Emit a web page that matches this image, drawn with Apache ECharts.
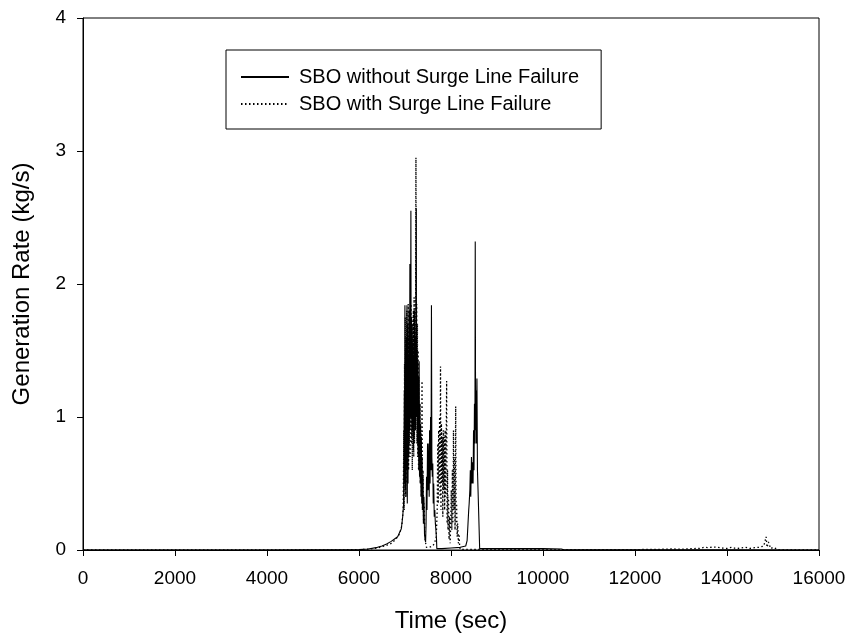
<!DOCTYPE html>
<html>
<head>
<meta charset="utf-8">
<script src="https://cdn.jsdelivr.net/npm/echarts@6/dist/echarts.min.js"></script>
<style>html,body{margin:0;padding:0;background:#fff;}#c{width:849px;height:642px;}</style>
</head>
<body>
<div id="c"></div>
<script>
const xTicks = [0, 2000, 4000, 6000, 8000, 10000, 12000, 14000, 16000];
const yTicks = [0, 1, 2, 3, 4];
const seriesNames = ['SBO without Surge Line Failure', 'SBO with Surge Line Failure'];

const withoutFailure = [
[0,0],[1000,0],[2000,0],[3000,0],[4000,0],[5000,0.001],[5800,0.002],[6000,0.003],[6200,0.008],[6400,0.02],[6500,0.03],[6600,0.045],[6700,0.065],[6780,0.085],[6840,0.1],[6880,0.13],[6920,0.16],[6950,0.25],[6970,0.35],
[6985,1.2],[6992,0.5],[6998,1.84],[7005,0.45],[7012,1.5],[7020,0.4],[7028,1.6],[7035,0.6],[7042,1.84],[7050,0.35],[7058,1.7],[7066,0.5],[7074,1.45],[7082,0.7],[7090,1.8],[7098,0.9],[7106,2.15],[7114,1.0],[7122,1.6],[7128,2.55],[7135,1.0],[7142,1.75],[7150,0.85],[7158,1.7],[7166,0.9],[7174,1.55],[7182,0.75],[7190,1.45],[7198,0.85],[7206,1.8],[7214,0.95],[7222,1.6],[7230,0.9],[7238,2.0],[7245,2.57],[7252,1.0],[7260,1.5],[7268,0.8],[7276,1.42],[7284,0.7],[7292,1.3],[7300,0.6],[7308,1.42],[7316,0.55],[7324,1.1],[7332,0.5],[7340,0.95],[7348,0.4],[7356,0.85],[7364,0.35],[7372,0.7],[7380,0.3],[7390,0.55],[7400,0.2],[7412,0.4],[7424,0.12],[7436,0.08],[7448,0.06],[7458,0.2],[7468,0.55],[7478,0.3],[7490,0.8],[7500,0.45],[7510,0.6],[7518,0.8],[7526,0.4],[7534,0.9],[7545,0.5],[7556,1.0],[7566,0.6],[7575,1.84],[7584,0.7],[7594,0.55],[7604,0.65],[7614,0.35],[7624,0.5],[7636,0.25],[7648,0.3],[7660,0.2],[7672,0.15],[7685,0.08],[7692,0.01],
[7800,0.01],[8000,0.015],[8200,0.02],[8320,0.03],[8350,0.07],[8370,0.2],[8385,0.3],[8395,0.35],[8410,0.45],[8420,0.6],[8430,0.4],[8445,0.7],[8455,0.5],[8469,0.66],[8480,0.5],[8490,0.9],[8500,0.6],[8510,1.1],[8520,0.8],[8527,2.32],[8535,0.9],[8545,1.2],[8552,0.8],[8564,1.29],[8575,0.6],[8588,0.45],[8600,0.3],[8612,0.15],[8623,0.01],
[9000,0.01],[9500,0.01],[10000,0.01],[10400,0.008],[10450,0.001],[12000,0.001],[14000,0.002],[16000,0]
];

const withFailure = [
[0,0],[5000,0.001],[6000,0.002],[6200,0.006],[6400,0.015],[6600,0.035],[6700,0.05],[6800,0.08],[6880,0.12],[6930,0.18],[6960,0.3],
[6975,0.9],[6983,0.3],[6990,1.4],[6998,0.5],[7006,1.75],[7014,0.4],[7022,1.6],[7030,0.6],[7038,1.8],[7046,0.5],[7054,1.7],[7062,0.7],[7070,1.85],[7078,0.6],[7086,1.6],[7094,0.8],[7102,1.8],[7110,0.7],[7118,1.7],[7126,0.9],[7134,1.85],[7142,0.8],[7150,1.75],[7158,0.6],[7166,1.6],[7174,0.9],[7182,1.8],[7190,0.7],[7198,1.9],[7206,0.8],[7214,1.6],[7222,0.9],[7230,1.8],[7238,2.95],[7246,1.0],[7254,1.85],[7262,0.8],[7270,1.7],[7278,0.7],[7286,1.5],[7294,0.6],[7302,1.3],[7310,0.6],[7322,1.1],[7334,0.5],[7346,0.9],[7358,0.4],[7370,1.27],[7380,0.3],[7392,0.6],[7404,0.2],[7418,0.35],[7432,0.1],[7450,0.05],[7466,0.02],[7490,0.03],[7520,0.02],[7560,0.03],[7600,0.03],[7640,0.05],[7680,0.1],
[7700,0.3],[7712,0.8],[7722,0.35],[7732,0.9],[7742,0.5],[7752,1.0],[7762,0.4],[7772,1.38],[7782,0.3],[7792,0.95],[7802,0.5],[7812,0.85],[7822,0.25],[7832,0.9],[7842,0.45],[7852,0.85],[7862,0.3],[7872,0.9],[7882,0.4],[7894,0.8],[7905,1.27],[7915,0.2],[7925,0.6],[7935,0.15],[7946,0.4],[7958,0.08],[7970,0.25],[7982,0.05],[7994,0.2],[8006,0.45],[8018,0.15],[8030,0.6],[8042,0.2],[8054,0.9],[8064,0.3],[8076,0.7],[8088,0.15],[8102,1.08],[8112,0.2],[8122,0.35],[8134,0.1],[8146,0.2],[8160,0.05],[8175,0.12],[8188,0.03],[8200,0.005],
[9000,0.003],[10000,0.002],[11000,0.002],[12000,0.002],[12200,0.004],[12500,0.005],[12800,0.008],[13000,0.006],[13200,0.01],[13400,0.012],[13500,0.02],[13600,0.018],[13700,0.022],[13800,0.02],[13900,0.015],[14000,0.012],[14100,0.02],[14200,0.01],[14300,0.015],[14400,0.02],[14500,0.012],[14600,0.018],[14700,0.02],[14800,0.03],[14850,0.1],[14870,0.02],[14900,0.06],[14950,0.01],[15000,0.02],[15100,0.005],[15150,0],[16000,0]
];

const FONT = '"Liberation Sans", Arial, sans-serif';
const chart = echarts.init(document.getElementById('c'), null, {renderer: 'canvas'});
chart.setOption({
  backgroundColor: '#fff',
  animation: false,
  textStyle: {fontFamily: FONT, color: '#000'},
  grid: {left: 83, right: 30, top: 18, bottom: 92, show: true, borderColor: '#000', borderWidth: 1, backgroundColor: 'transparent'},
  legend: {
    orient: 'vertical', left: 226, top: 50,
    data: seriesNames,
    itemWidth: 48, itemHeight: 14, itemGap: 7,
    padding: [17, 22, 15, 14],
    borderColor: '#000', borderWidth: 1,
    itemStyle: {color: 'rgba(0,0,0,0)', borderWidth: 0, borderColor: 'rgba(0,0,0,0)', opacity: 0},
    textStyle: {fontFamily: FONT, fontSize: 20, color: '#000', padding: [0, 0, 0, 5]}
  },
  xAxis: {
    type: 'value', min: 0, max: 16000, interval: 2000,
    name: 'Time (sec)', nameLocation: 'middle', nameGap: 59,
    nameTextStyle: {fontFamily: FONT, fontSize: 24, color: '#000'},
    axisLine: {show: true, lineStyle: {color: '#000', width: 1}},
    axisTick: {show: true, inside: false, length: 6, lineStyle: {color: '#000'}},
    axisLabel: {fontFamily: FONT, fontSize: 19, color: '#000', margin: 19,
      formatter: v => xTicks.includes(v) ? String(v) : ''},
    splitLine: {show: false}
  },
  yAxis: {
    type: 'value', min: 0, max: 4, interval: 1,
    name: 'Generation Rate (kg/s)', nameLocation: 'middle', nameGap: 49,
    nameTextStyle: {fontFamily: FONT, fontSize: 24, color: '#000'},
    axisLine: {show: true, lineStyle: {color: '#000', width: 1}},
    axisTick: {show: true, inside: false, length: 6, lineStyle: {color: '#000'}},
    axisLabel: {fontFamily: FONT, fontSize: 19, color: '#000', margin: 17,
      formatter: v => yTicks.includes(v) ? String(v) : ''},
    splitLine: {show: false}
  },
  series: [
    {name: seriesNames[0], type: 'line', data: withoutFailure, symbol: 'none', showSymbol: false,
     lineStyle: {color: '#000', width: 1.1, type: 'solid'}, itemStyle: {color: '#000'}, z: 3},
    {name: seriesNames[1], type: 'line', data: withFailure, symbol: 'none', showSymbol: false,
     lineStyle: {color: '#000', width: 1.3, type: [1.5, 2.5]}, itemStyle: {color: '#000'}, z: 2}
  ]
});
</script>
</body>
</html>
